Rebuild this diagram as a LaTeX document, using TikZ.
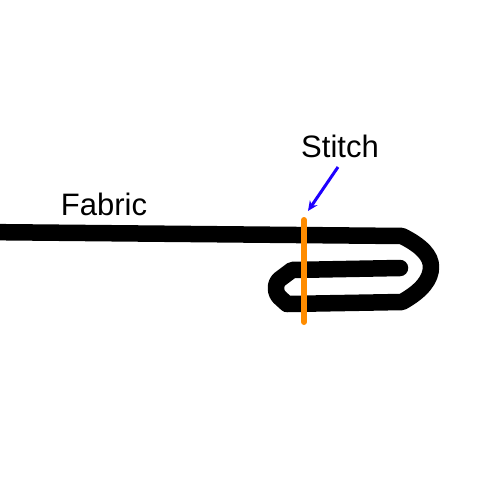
\documentclass[tikz,border=0pt]{standalone}
\usepackage{fontspec}
\setmainfont{Liberation Sans}
\usetikzlibrary{arrows.meta}
\definecolor{stitchorange}{RGB}{255,140,0}
\definecolor{arrowblue}{RGB}{30,0,255}
\tikzset{
  fabricline/.style={line width=16.5pt, line join=round, line cap=round},
  stitchline/.style={line width=6pt, stitchorange, line cap=round},
  pointer/.style={line width=3pt, arrowblue, -{Stealth[length=10pt,width=9pt]}},
  label/.style={font=\fontsize{31pt}{37pt}\selectfont, anchor=base, inner sep=0pt}
}
\begin{document}
\begin{tikzpicture}[x=1pt,y=-1pt]
\useasboundingbox (0,0) rectangle (500,500);
\begin{scope}
\clip (0,0) rectangle (500,500);
\coordinate (A) at (-20,232);
\coordinate (B) at (402,236);
\coordinate (C) at (431,267);
\coordinate (D) at (402,302);
\coordinate (E) at (287,304);
\coordinate (F1) at (276,294);
\coordinate (F2) at (276,282);
\coordinate (G) at (292,270);
\coordinate (H) at (400,268);
\draw[fabricline] (A) -- (B) .. controls (422,246) and (431,256) .. (C)
  .. controls (431,279) and (422,291) .. (D) -- (E)
  {[rounded corners=5pt] -- (F1) -- (F2)} -- (G) -- (H);
\end{scope}
\coordinate (st) at (304,220);
\coordinate (sb) at (304,322);
\draw[stitchline] (st) -- (sb);
\node[label] (fabric) at (104,215) {Fabric};
\node[label] (stitch) at (340,157) {Stitch};
\coordinate (ps) at (338,167);
\coordinate (pe) at (308,211);
\draw[pointer] (ps) -- (pe);
\end{tikzpicture}
\end{document}
